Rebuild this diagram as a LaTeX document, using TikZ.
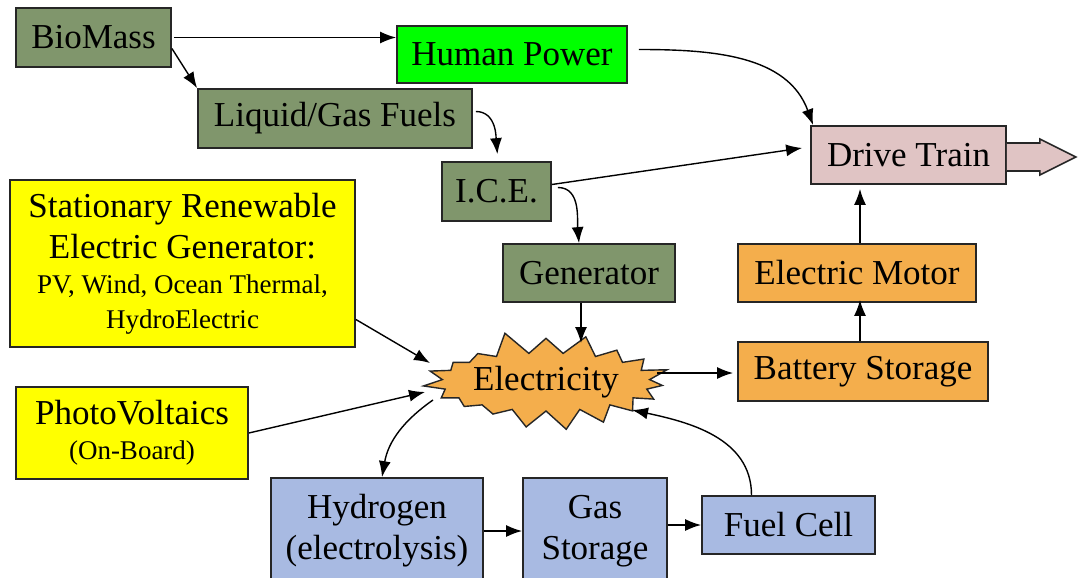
\documentclass[tikz,border=0pt]{standalone}
\usepackage{fontspec}
\setmainfont{Liberation Serif}
\usetikzlibrary{shapes.symbols,arrows.meta,calc}
\newcommand\bigf{\fontsize{35}{41}\selectfont}
\newcommand\smallf{\fontsize{27}{35}\selectfont}
\definecolor{bmgreen}{RGB}{128,150,108}
\definecolor{hpgreen}{RGB}{0,255,0}
\definecolor{ylw}{RGB}{255,255,0}
\definecolor{dtpink}{RGB}{224,196,196}
\definecolor{elorange}{RGB}{244,174,76}
\definecolor{h2blue}{RGB}{168,186,226}
\begin{document}
\begin{tikzpicture}[x=1pt,y=-1pt,
  box/.style={rectangle,draw=black!85,line width=1.8pt,inner sep=0pt,align=center,font=\bigf,text=black},
  arr/.style={line width=1.4pt,draw=black,-{Latex[length=16pt,width=12pt]}}]
\useasboundingbox (0,0) rectangle (1080,578);
% nodes
\node[box,fill=bmgreen,minimum width=155pt,minimum height=59pt] (bio) at (93.5,37.5) {BioMass};
\node[box,fill=hpgreen,minimum width=230pt,minimum height=57pt] (hp) at (512,54.5) {Human Power};
\node[box,fill=bmgreen,minimum width=274pt,minimum height=59pt] (liq) at (335,118.5) {Liquid/Gas Fuels};
\node[box,fill=bmgreen,minimum width=109pt,minimum height=59pt] (ice) at (496.5,191.5) {I.C.E.};
\node[box,fill=dtpink,minimum width=195pt,minimum height=58pt] (dt) at (908.5,155) {Drive Train};
\node[box,fill=ylw,minimum width=345pt,minimum height=167pt] (sta) at (182.5,263.5)
  {Stationary Renewable\\Electric Generator:\\[-6pt]{\smallf PV, Wind, Ocean Thermal,}\\[-6pt]{\smallf HydroElectric}};
\node[box,fill=bmgreen,minimum width=172pt,minimum height=58pt] (gen) at (589,273) {Generator};
\node[box,fill=elorange,minimum width=238pt,minimum height=58pt] (em) at (857,273) {Electric Motor};
\node[box,fill=elorange,minimum width=250pt,minimum height=59pt] (bat) at (863,371.5) {Battery Storage};
\node[starburst,draw=black!85,line width=1.4pt,fill=elorange,starburst points=19,
  starburst point height=24pt,random starburst=5,minimum width=256pt,minimum height=106pt,
  inner sep=0pt,font=\bigf] (elec) at (546,382) {Electricity};
\node[box,fill=ylw,minimum width=232pt,minimum height=92pt] (pv) at (132,433)
  {PhotoVoltaics\\[-6pt]{\smallf (On-Board)}};
\node[box,fill=h2blue,minimum width=212pt,minimum height=106pt] (hyd) at (377,531)
  {Hydrogen\\(electrolysis)};
\node[box,fill=h2blue,minimum width=144pt,minimum height=106pt] (gas) at (595,531)
  {Gas\\Storage};
\node[box,fill=h2blue,minimum width=173pt,minimum height=58pt] (fc) at (788.5,525) {Fuel Cell};
% drive train arrow
\draw[line width=1.6pt,draw=black!85,fill=dtpink] ([shift={(0,-12)}]dt.east) -- ++(33,0) -- ++(0,-4)
  -- ++(36,18) -- ++(-36,18) -- ++(0,-4) -- ++(-33,0);
% attachment points on Electricity
\coordinate (eSta) at ([shift={(-116,-19)}]elec.center);
\coordinate (ePv) at ([shift={(-121,10)}]elec.center);
\coordinate (eHyd) at ([shift={(-113,18)}]elec.center);
\coordinate (eBat) at ([shift={(111,-9)}]elec.center);
\coordinate (eFc) at ([shift={(86,28)}]elec.center);
\coordinate (eGen) at ([shift={(35,-39)}]elec.center);
% connectors
\draw[arr] ([xshift=2pt]bio.east) -- (bio.east -| hp.west);
\draw[arr] ([yshift=-11pt]bio.east) -- (liq.north west);
\draw[arr,shorten >=7pt] ([shift={(3,-7)}]liq.east) to[out=0,in=95] ([xshift=1.5pt]ice.north);
\draw[arr] ([yshift=7pt]ice.east) -- ([shift={(-8,-7)}]dt.west);
\draw[arr] ([shift={(6,-4)}]ice.east) to[out=0,in=95] ([xshift=-10pt]gen.north);
\draw[arr] ([shift={(11,-5)}]hp.east) to[out=0,in=110] ([xshift=3pt]dt.north west);
\draw[arr] ([xshift=3pt]em.north) -- ([xshift=3pt,yshift=-4pt]em.north |- dt.south);
\draw[arr] ([xshift=-3pt]bat.north) -- ([shift={(3,-3)}]em.south);
\draw[arr] ([xshift=-8pt]gen.south) -- (eGen);
\draw[arr] ([yshift=-56pt]sta.east) -- (eSta);
\draw[arr] (pv.east) -- (ePv);
\draw[arr] (eHyd) to[out=215,in=80] ([xshift=5pt]hyd.north);
\draw[arr,shorten >=4pt] (eBat) -- (eBat -| bat.west);
\draw[arr] ([xshift=-37pt]fc.north) to[out=90,in=-12] (eFc);
\draw[arr] (hyd.east) -- (gas.west);
\draw[arr] (gas.east |- fc.west) -- (fc.west);
\end{tikzpicture}
\end{document}
